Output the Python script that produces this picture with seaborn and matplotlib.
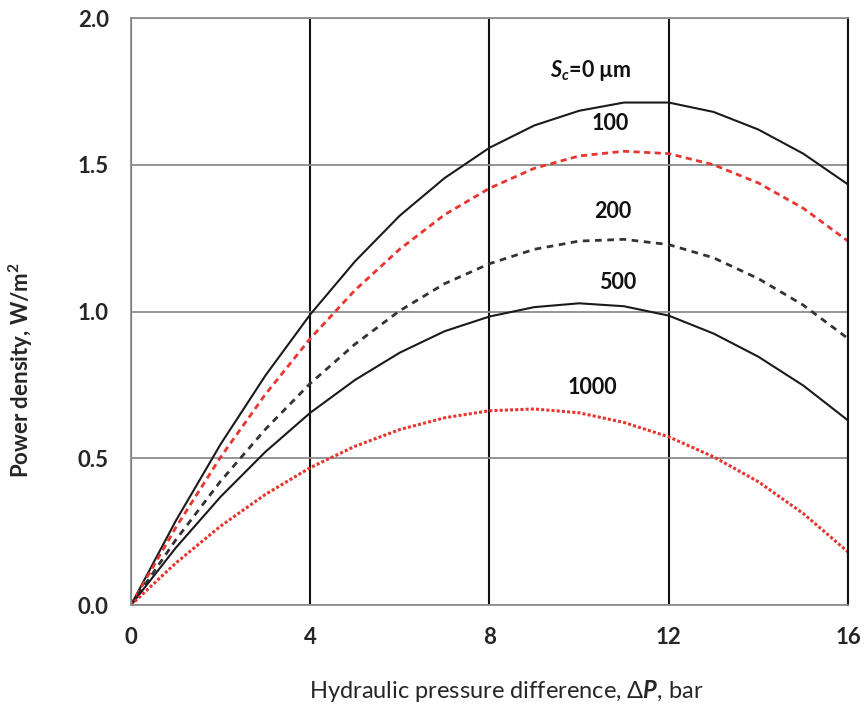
import numpy as np
import pandas as pd
import matplotlib
matplotlib.use("Agg")
import matplotlib.pyplot as plt
import seaborn as sns

# ---- data ----
dP = [0, 1, 2, 3, 4, 5, 6, 7, 8, 9, 10, 11, 12, 13, 14, 15, 16]
sc_0 = [0, 0.287, 0.548, 0.782, 0.990, 1.171, 1.327, 1.455, 1.558, 1.634,
        1.684, 1.712, 1.712, 1.680, 1.620, 1.538, 1.433]
sc_100 = [0, 0.264, 0.504, 0.718, 0.908, 1.073, 1.213, 1.330, 1.420, 1.488,
          1.530, 1.546, 1.538, 1.500, 1.438, 1.352, 1.240]
sc_200 = [0, 0.222, 0.422, 0.599, 0.755, 0.889, 1.003, 1.095, 1.163, 1.212,
          1.240, 1.246, 1.228, 1.183, 1.112, 1.022, 0.908]
sc_500 = [0, 0.195, 0.369, 0.522, 0.655, 0.767, 0.860, 0.933, 0.983, 1.015,
          1.028, 1.018, 0.986, 0.925, 0.846, 0.748, 0.629]
sc_1000 = [0, 0.143, 0.269, 0.377, 0.468, 0.541, 0.598, 0.638, 0.662, 0.668,
           0.655, 0.622, 0.573, 0.505, 0.420, 0.312, 0.181]
series_names = ["0", "100", "200", "500", "1000"]
curve_labels = ["$S_c$=0 µm", "100", "200", "500", "1000"]
x_ticks = [0, 4, 8, 12, 16]
y_ticks = [0.0, 0.5, 1.0, 1.5, 2.0]

df = pd.concat([
    pd.DataFrame({"dP": dP, "P": vals, "Sc": name})
    for name, vals in zip(series_names, [sc_0, sc_100, sc_200, sc_500, sc_1000])
], ignore_index=True)

sns.set_style("white")
plt.rcParams["font.family"] = ["Lato", "DejaVu Sans"]
plt.rcParams["mathtext.fontset"] = "custom"
plt.rcParams["mathtext.it"] = "Lato:italic:bold"
plt.rcParams["mathtext.rm"] = "Lato:bold"
plt.rcParams["mathtext.bf"] = "Lato:bold"

fig = plt.figure(figsize=(8.64, 7.15), dpi=100)
ax = fig.add_axes([0.1516, 0.1538, 0.8299, 0.8210])

styles = {
    "0":    dict(color="#1a1a1a", lw=1.5, dashes=None),
    "100":  dict(color="#e8352f", lw=2.0, dashes=(2.2, 1.6)),
    "200":  dict(color="#333333", lw=2.0, dashes=(2.4, 2.0)),
    "500":  dict(color="#1a1a1a", lw=1.5, dashes=None),
    "1000": dict(color="#e8352f", lw=2.2, dashes=(1.0, 0.7)),
}
for name in series_names:
    st = styles[name]
    sub = df[df["Sc"] == name]
    sns.lineplot(data=sub, x="dP", y="P", ax=ax, color=st["color"],
                 linewidth=st["lw"], legend=False)
    l = ax.lines[-1]
    if st["dashes"] is not None:
        l.set_dashes(st["dashes"])

ax.set_xlim(0, 16)
ax.set_ylim(0, 2.0)
ax.set_xticks(x_ticks)
ax.set_yticks(y_ticks)
ax.set_xticklabels([str(t) for t in x_ticks])
ax.set_yticklabels([f"{t:.1f}" for t in y_ticks])
ax.tick_params(axis="both", length=0, labelsize=16, pad=16)
for lab in ax.get_xticklabels() + ax.get_yticklabels():
    lab.set_fontweight("bold")

ax.yaxis.grid(True, color="#8c8c8c", lw=1.3)
ax.xaxis.grid(True, color="#111111", lw=1.5)
ax.set_axisbelow(True)
for s in ["left", "bottom", "top"]:
    ax.spines[s].set_color("#8c8c8c")
    ax.spines[s].set_linewidth(1.3)
ax.spines["right"].set_color("#111111")
ax.spines["right"].set_linewidth(1.5)

ax.set_xlabel("Hydraulic pressure difference, Δ$P$, bar", fontsize=17)
ax.xaxis.set_label_coords(0.524, -0.124)
ylab = ax.set_ylabel("Power density, W/m$^\\mathbf{2}$", fontsize=16)
ylab.set_fontweight("bold")
ax.yaxis.set_label_coords(-0.134, 0.40)

label_pos = [(10.25, 1.82), (10.69, 1.64), (10.74, 1.34), (10.85, 1.10), (10.29, 0.74)]
for txt, (tx, ty) in zip(curve_labels, label_pos):
    ax.text(tx, ty, txt, fontsize=15.5, fontweight="bold", ha="center", va="center",
            color="#111111")

fig.savefig("out.png", dpi=100)
